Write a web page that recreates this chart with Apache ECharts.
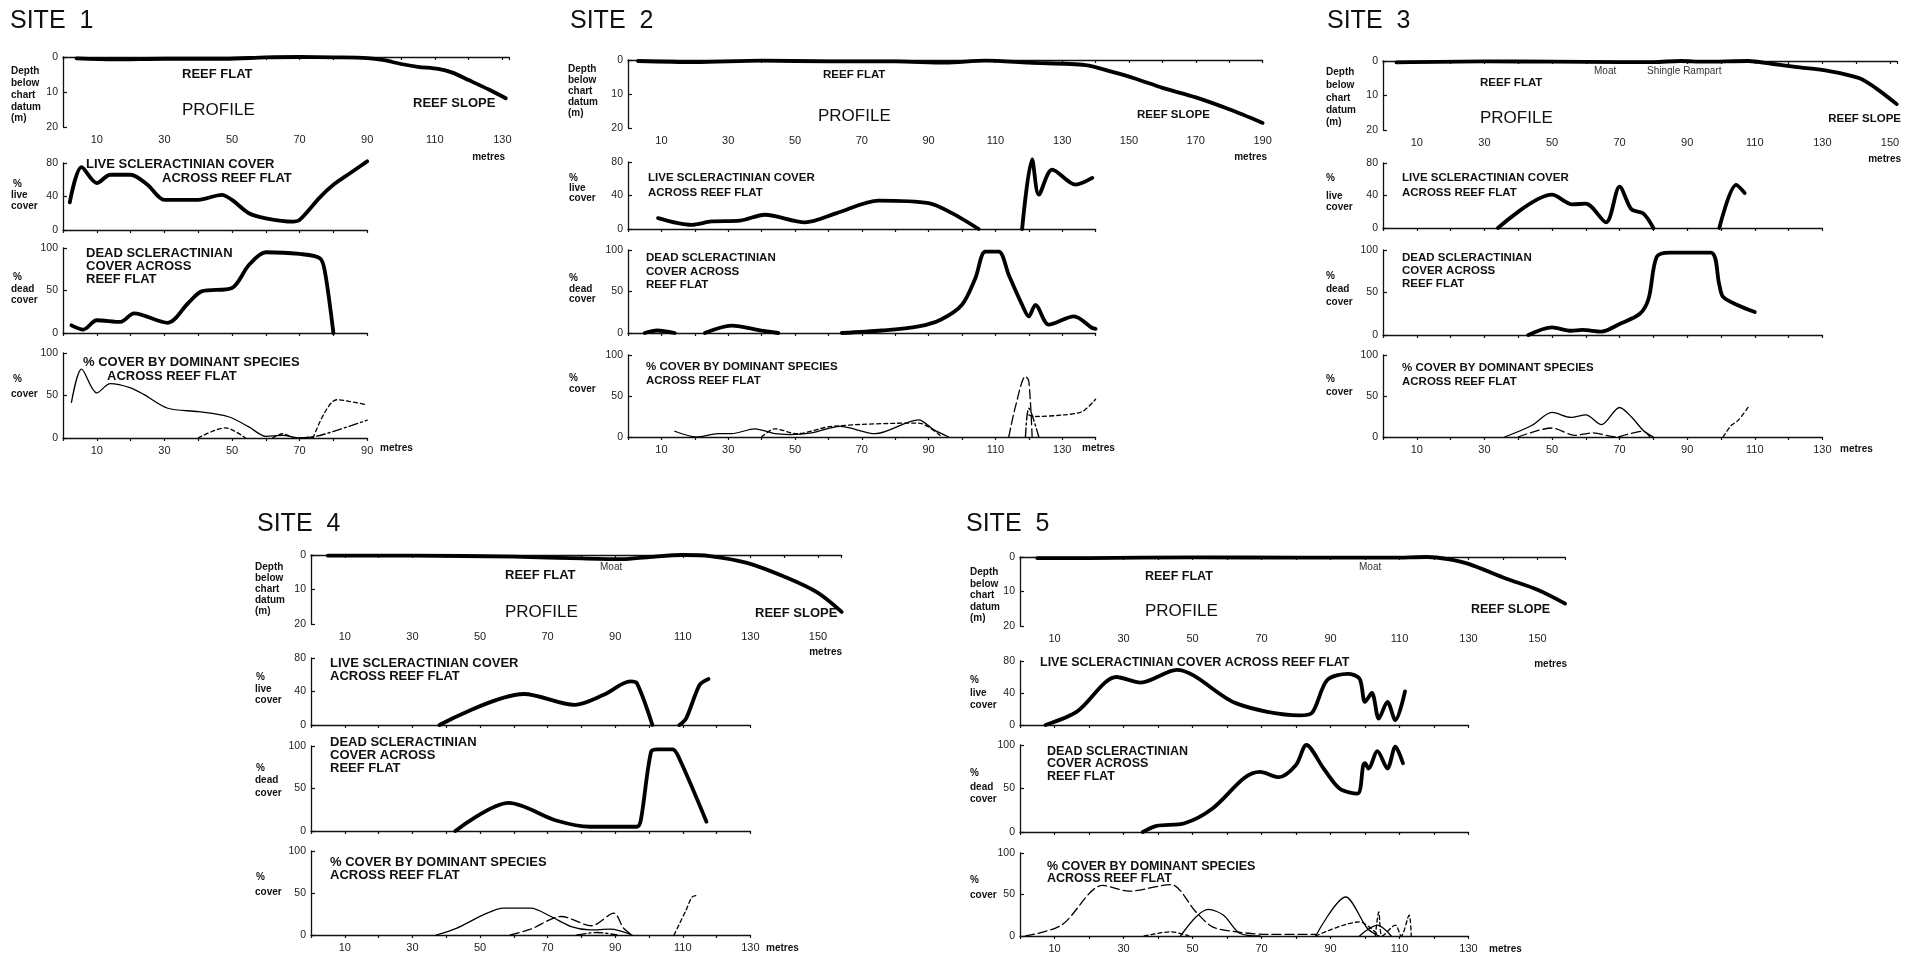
<!DOCTYPE html>
<html><head><meta charset="utf-8">
<script src="https://cdn.jsdelivr.net/npm/echarts@6/dist/echarts.min.js"></script>
<style>html,body{margin:0;padding:0;background:#fff}#c{width:1913px;height:956px}</style>
</head><body><div id="c"></div>
<script>
// ---------------- DATA (distance m, value) ----------------
// Site 1
const p1 = [[4,0.4],[15,0.7],[30,0.5],[48,0.5],[60,0.1],[70,0],[80,0.1],[90,0.3],[95,0.9],[100,2],[105,2.8],[111,3.4],[115,4.4],[120,6.6],[126,9.3],[131,11.8]];
const l1 = [[2,33],[5.5,75],[10,56],[14,66],[20,66],[25,54],[30,36],[40,36],[47,42],[50,36],[55,20],[60,14],[68,10],[70,12],[76,39],[80,54],[85,68],[90,82]];
const d1 = [[2.5,9],[6,4],[10,15],[17,13],[21,23],[31,12],[37,35],[41,49],[50,53],[55,80],[60,95],[70,93],[76,88],[77.5,72],[80,0]];
const s1Solid = [[2.5,42],[5.5,81],[10,53],[14,64],[20,59],[24,51],[31,35],[40,31],[49,25],[55,13],[60,2],[65,3],[70,0],[74,1]];
const s1DashA = [[40,0],[48,12],[54,0]];
const s1DashB = [[62,0],[65,5],[68,0]];
const s1DashC = [[74,0],[81,45],[90,39]];
const s1DashDot = [[70,0],[76,3],[90,21]];
// Site 2
const p2 = [[3,0.3],[20,0.6],[40,0.2],[60,0.4],[80,0.4],[95,0.8],[107,0.2],[120,0.8],[137,1.5],[145,3.5],[152,5.5],[160,8.2],[170,11],[180,14.5],[190,18.5]];
const l2A = [[9,13],[19,5],[25,9],[33.5,10],[41,17],[53,8],[62.5,19],[75,34],[90,31],[97,19],[105,0]];
const l2B = [[118,0],[121,83],[123,41],[127,71],[134,53],[139,61]];
const d2A = [[5,0],[8.7,3],[14,0]];
const d2B = [[23,0],[31,9],[40,3],[45,0]];
const d2C = [[64,0],[76,3],[87,8],[93.6,16],[100,34],[104,66],[107,98],[111,98],[114,70],[118,34],[120,20],[122,34],[126,10],[133.5,20],[139,6],[140,5]];
const s2Solid = [[14,7],[20.5,0],[27,4],[31,4],[38,10],[44,4],[48.5,3],[55,5],[63.5,13],[74,4],[87,21],[91.5,9],[96,0]];
const s2Dash = [[40,0],[44,10],[50.5,4],[61,13],[87,17],[94,0]];
const s2DashPeak = [[114,0],[116,37],[119,74],[120,68],[121,0]];
const s2DashTail = [[120,27],[122,25],[130.5,27],[136,31],[140,46]];
const s2DashDot = [[119,0],[120,35],[123,0]];
// Site 3
const p3 = [[4,0.4],[30,0.1],[50,0.2],[70,0.3],[80,0.3],[88,0],[95,0.2],[108,0],[115,0.8],[122,1.7],[132,2.9],[141,5],[146,8],[152,12.5]];
const l3A = [[34,0],[50,41],[56,29],[60,30],[66,7],[70,51],[73.5,23],[77,18],[80,0]];
const l3B = [[99.5,0],[104.5,53],[107,43]];
const d3 = [[43,0],[50,9],[55.6,5],[59,6],[64.6,4],[70,13],[76,25],[78.6,43],[81,92],[85,97],[97,97],[99.5,59],[100.6,45],[105,35],[110,27]];
const s3Solid = [[36,0],[44,14],[50,30],[55.6,24],[60,27],[64.6,15],[70,36],[73.6,24],[77,8],[80,0]];
const s3Dash = [[40,0],[50,11],[56.7,2],[62,5],[69,0],[72,3],[77,7],[79,0]];
const s3DashR = [[100.6,0],[103,14],[105,20],[108,36]];
// Site 4
const p4 = [[5,0.2],[30,0.2],[60,0.5],[80,1],[92,1.2],[100,0.6],[110,0],[118,0.3],[129,2.3],[141,6.7],[150,11],[157,16.5]];
const l4A = [[38,0],[63,37],[78,24],[86.6,36],[94.5,52],[96.4,50],[101,0]];
const l4B = [[109,0],[111,8],[115,48],[117.6,55]];
const d4 = [[42.7,0],[58.5,33],[72.8,12],[82.6,5],[96.4,5],[97.6,13],[100.6,93],[102.5,96],[107,96],[109,85],[117,11]];
const s4Solid = [[37,0],[43,8],[51,24],[57,32],[65,32],[71,22],[77,10],[82.6,6],[88.5,7],[95,0]];
const s4Dash = [[59,0],[65,7],[74,22],[83,11],[89.6,26],[92.5,8],[95,0]];
const s4DashDot = [[78.7,0],[84.6,3],[90.5,0]];
const s4DashR = [[107.4,0],[111,30],[112.7,45],[114,47]];
// Site 5
const p5 = [[5,0.3],[20,0.3],[50,0.1],[80,0.2],[108,0.2],[118,0],[124,0.6],[130,2],[141,6.3],[150,9.5],[158,13.5]];
const l5 = [[7.4,0],[16.6,17],[28,60],[35,53],[45.4,69],[62.7,27],[81,12],[84.6,15],[89,56],[95,64],[98.4,58],[100,29],[102,40],[104,8],[106.5,29],[108.8,6],[111.6,42]];
const d5 = [[35.6,0],[39.6,7],[47.7,10],[55.8,27],[65,62],[69.6,69],[75,63],[80,77],[83,100],[88,73],[92.6,50],[97.8,44],[99.5,77],[100,79],[101,73],[103.6,93],[106.5,73],[108.8,98],[111,79]];
const s5LongDash = [[1.6,0],[12,13],[24,61],[31.6,54],[43.7,62],[51,29],[55.8,11],[62.7,5],[72,2],[85.7,2]];
const s5SolidA = [[46.5,0],[51,23],[54.6,32],[59,25],[63.8,3],[69.6,0]];
const s5DashA = [[36,0],[43.7,5],[49,0]];
const s5DashB = [[85.7,0],[98.4,17],[101.8,9],[104,0]];
const s5SolidB = [[85.7,0],[94.4,47],[100.7,9],[104,0]];
const s5SolidC = [[98.4,0],[103.6,13],[107.6,0]];
const s5Spikes = [[103,0],[104,29],[105,0],[108.8,13],[110.5,0],[112.8,25],[113.4,0]];

// ---------------- LAYOUT ----------------
const sites = [
  {x0:63,  ppm:3.38, P:[57,127,132], L:[163,230,90],  D:[248,333,90],  S:[353,438,90],
   series:{P:[[p1,'thick']], L:[[l1,'thick']], D:[[d1,'thick']],
           S:[[s1Solid,'solid'],[s1DashA,'dash'],[s1DashB,'dash'],[s1DashC,'dash'],[s1DashDot,'dashdot']]}},
  {x0:628, ppm:3.34, P:[60,128,190], L:[162,229,140], D:[250,333,140], S:[355,437,140],
   series:{P:[[p2,'thick']], L:[[l2A,'thick'],[l2B,'thick']], D:[[d2A,'thick'],[d2B,'thick'],[d2C,'thick']],
           S:[[s2Solid,'solid'],[s2Dash,'dash'],[s2DashPeak,'ldash'],[s2DashTail,'dash'],[s2DashDot,'dashdot']]}},
  {x0:1383, ppm:3.38, P:[61,130,152], L:[163,228,130], D:[250,335,130], S:[355,437,130],
   series:{P:[[p3,'thick']], L:[[l3A,'thick'],[l3B,'thick']], D:[[d3,'thick']],
           S:[[s3Solid,'solid'],[s3Dash,'ldash'],[s3DashR,'dash']]}},
  {x0:311, ppm:3.38, P:[555,624,157], L:[658,725,130], D:[746,831,130], S:[851,935,130],
   series:{P:[[p4,'thick']], L:[[l4A,'thick'],[l4B,'thick']], D:[[d4,'thick']],
           S:[[s4Solid,'solid'],[s4Dash,'ldash'],[s4DashDot,'dashdot'],[s4DashR,'dash']]}},
  {x0:1020, ppm:3.45, P:[557,626,158], L:[661,725,130], D:[745,832,130], S:[853,936,130],
   series:{P:[[p5,'thick']], L:[[l5,'thick']], D:[[d5,'thick']],
           S:[[s5LongDash,'ldash'],[s5SolidA,'solid'],[s5DashA,'dash'],[s5DashB,'dash'],[s5SolidB,'solid'],[s5SolidC,'solid'],[s5Spikes,'dash']]}}
];

const kinds = {
  P:{ymax:20, yint:10, inverse:true,  xlab:true},
  L:{ymax:80, yint:40, inverse:false, xlab:false},
  D:{ymax:100,yint:50, inverse:false, xlab:false},
  S:{ymax:100,yint:50, inverse:false, xlab:true}
};
const styles = {
  thick:  {width:3.8, type:'solid'},
  solid:  {width:1.3, type:'solid'},
  dash:   {width:1.3, type:[4,3]},
  ldash:  {width:1.3, type:[9,4]},
  dashdot:{width:1.4, type:[9,3,2,3]}
};
const FONT = '"Liberation Sans", Arial, sans-serif';

const grid=[], xAxis=[], yAxis=[], series=[];
sites.forEach(s=>{
  ['P','L','D','S'].forEach(k=>{
    const [top,bottom,xmax] = s[k], kd = kinds[k];
    const idx = grid.length;
    grid.push({left:s.x0, top:top, width:xmax*s.ppm, height:bottom-top});
    xAxis.push({type:'value', gridIndex:idx, min:0, max:xmax, interval:10,
      splitLine:{show:false},
      axisLine:{lineStyle:{color:'#111', width:1.3}},
      axisTick:{show:true, inside:false, length:3, lineStyle:{color:'#111', width:1.2}},
      axisLabel:{show:kd.xlab, interval:0, margin:7, fontSize:11, color:'#222', fontFamily:FONT,
        formatter:v=> (Math.round(v)%20===10 ? String(v) : '')}
    });
    yAxis.push({type:'value', gridIndex:idx, min:0, max:kd.ymax, interval:kd.yint, inverse:kd.inverse,
      splitLine:{show:false},
      axisLine:{show:true, lineStyle:{color:'#111', width:1.3}},
      axisTick:{show:true, inside:true, length:4, lineStyle:{color:'#111', width:1.2}},
      axisLabel:{fontSize:10.5, color:'#222', margin:5, fontFamily:FONT}
    });
    s.series[k].forEach(([data,st])=>{
      const ls = styles[st];
      series.push({type:'line', xAxisIndex:idx, yAxisIndex:idx, data:data, showSymbol:false,
        smooth:0.3, clip:false, silent:true, animation:false,
        lineStyle:{color:'#000', width:ls.width, type:ls.type, cap:'round', join:'round'}});
    });
  });
});

// ---------------- TEXT ----------------
const T = (text,x,y,st,align)=>({text,x,y,st,align:align||'left'});
const texts = [
  // site 1
  T('SITE  1',10,21,'site'),
  T('Depth',11,71,'ax'),T('below',11,83,'ax'),T('chart',11,95,'ax'),T('datum',11,107,'ax'),T('(m)',11,118,'ax'),
  T('REEF FLAT',182,74,'labL'),T('PROFILE',182,110,'big'),T('REEF SLOPE',413,103,'labL'),T('metres',505,157,'ax','right'),
  T('%',13,184,'ax'),T('live',11,195,'ax'),T('cover',11,206,'ax'),
  T('LIVE SCLERACTINIAN COVER',86,164,'labL'),T('ACROSS REEF FLAT',162,178,'labL'),
  T('%',13,277,'ax'),T('dead',11,289,'ax'),T('cover',11,300,'ax'),
  T('DEAD SCLERACTINIAN',86,253,'labL'),T('COVER ACROSS',86,266,'labL'),T('REEF FLAT',86,279,'labL'),
  T('%',13,379,'ax'),T('cover',11,394,'ax'),
  T('% COVER BY DOMINANT SPECIES',83,362,'labL'),T('ACROSS REEF FLAT',107,376,'labL'),
  T('metres',380,448,'ax'),
  // site 2
  T('SITE  2',570,21,'site'),
  T('Depth',568,69,'ax'),T('below',568,80,'ax'),T('chart',568,91,'ax'),T('datum',568,102,'ax'),T('(m)',568,113,'ax'),
  T('REEF FLAT',823,75,'lab'),T('PROFILE',818,116,'big'),T('REEF SLOPE',1137,115,'lab'),T('metres',1267,157,'ax','right'),
  T('%',569,178,'ax'),T('live',569,188,'ax'),T('cover',569,198,'ax'),
  T('LIVE SCLERACTINIAN COVER',648,178,'lab'),T('ACROSS REEF FLAT',648,193,'lab'),
  T('%',569,278,'ax'),T('dead',569,289,'ax'),T('cover',569,299,'ax'),
  T('DEAD SCLERACTINIAN',646,258,'lab'),T('COVER ACROSS',646,272,'lab'),T('REEF FLAT',646,285,'lab'),
  T('%',569,378,'ax'),T('cover',569,389,'ax'),
  T('% COVER BY DOMINANT SPECIES',646,367,'lab'),T('ACROSS REEF FLAT',646,381,'lab'),
  T('metres',1082,448,'ax'),
  // site 3
  T('SITE  3',1327,21,'site'),
  T('Depth',1326,72,'ax'),T('below',1326,85,'ax'),T('chart',1326,98,'ax'),T('datum',1326,110,'ax'),T('(m)',1326,122,'ax'),
  T('Moat',1594,71,'small'),T('Shingle Rampart',1647,71,'small'),
  T('REEF FLAT',1480,83,'lab'),T('PROFILE',1480,118,'big'),T('REEF SLOPE',1901,119,'lab','right'),T('metres',1901,159,'ax','right'),
  T('%',1326,178,'ax'),T('live',1326,196,'ax'),T('cover',1326,207,'ax'),
  T('LIVE SCLERACTINIAN COVER',1402,178,'lab'),T('ACROSS REEF FLAT',1402,193,'lab'),
  T('%',1326,276,'ax'),T('dead',1326,289,'ax'),T('cover',1326,302,'ax'),
  T('DEAD SCLERACTINIAN',1402,258,'lab'),T('COVER ACROSS',1402,271,'lab'),T('REEF FLAT',1402,284,'lab'),
  T('%',1326,379,'ax'),T('cover',1326,392,'ax'),
  T('% COVER BY DOMINANT SPECIES',1402,368,'lab'),T('ACROSS REEF FLAT',1402,382,'lab'),
  T('metres',1840,449,'ax'),
  // site 4
  T('SITE  4',257,524,'site'),
  T('Depth',255,567,'ax'),T('below',255,578,'ax'),T('chart',255,589,'ax'),T('datum',255,600,'ax'),T('(m)',255,611,'ax'),
  T('Moat',600,567,'small'),
  T('REEF FLAT',505,575,'labL'),T('PROFILE',505,612,'big'),T('REEF SLOPE',755,613,'labL'),T('metres',842,652,'ax','right'),
  T('%',256,677,'ax'),T('live',255,689,'ax'),T('cover',255,700,'ax'),
  T('LIVE SCLERACTINIAN COVER',330,663,'labL'),T('ACROSS REEF FLAT',330,676,'labL'),
  T('%',256,768,'ax'),T('dead',255,780,'ax'),T('cover',255,793,'ax'),
  T('DEAD SCLERACTINIAN',330,742,'labL'),T('COVER ACROSS',330,755,'labL'),T('REEF FLAT',330,768,'labL'),
  T('%',256,877,'ax'),T('cover',255,892,'ax'),
  T('% COVER BY DOMINANT SPECIES',330,862,'labL'),T('ACROSS REEF FLAT',330,875,'labL'),
  T('metres',766,948,'ax'),
  // site 5
  T('SITE  5',966,524,'site'),
  T('Depth',970,572,'ax'),T('below',970,584,'ax'),T('chart',970,595,'ax'),T('datum',970,607,'ax'),T('(m)',970,618,'ax'),
  T('Moat',1359,567,'small'),
  T('REEF FLAT',1145,577,'labM'),T('PROFILE',1145,611,'big'),T('REEF SLOPE',1471,610,'labM'),T('metres',1567,664,'ax','right'),
  T('%',970,680,'ax'),T('live',970,693,'ax'),T('cover',970,705,'ax'),
  T('LIVE SCLERACTINIAN COVER ACROSS REEF FLAT',1040,663,'labM'),
  T('%',970,773,'ax'),T('dead',970,787,'ax'),T('cover',970,799,'ax'),
  T('DEAD SCLERACTINIAN',1047,752,'labM'),T('COVER ACROSS',1047,764,'labM'),T('REEF FLAT',1047,777,'labM'),
  T('%',970,880,'ax'),T('cover',970,895,'ax'),
  T('% COVER BY DOMINANT SPECIES',1047,867,'labM'),T('ACROSS REEF FLAT',1047,879,'labM'),
  T('metres',1489,949,'ax')
];
const fontFor = {
  site:'normal 25px '+FONT,
  big:'normal 17px '+FONT,
  lab:'bold 11.5px '+FONT,
  labL:'bold 13px '+FONT,
  labM:'bold 12.5px '+FONT,
  ax:'bold 10px '+FONT,
  small:'normal 10px '+FONT
};
const graphic = texts.map(t=>({type:'text', x:t.x, y:t.y, silent:true,
  style:{text:t.text, font:fontFor[t.st], fill:t.st==='small'?'#333':'#111', textAlign:t.align, textVerticalAlign:'middle'}}));

const chart = echarts.init(document.getElementById('c'), null, {renderer:'canvas'});
chart.setOption({backgroundColor:'#fff', animation:false, grid, xAxis, yAxis, series, graphic});
</script></body></html>
